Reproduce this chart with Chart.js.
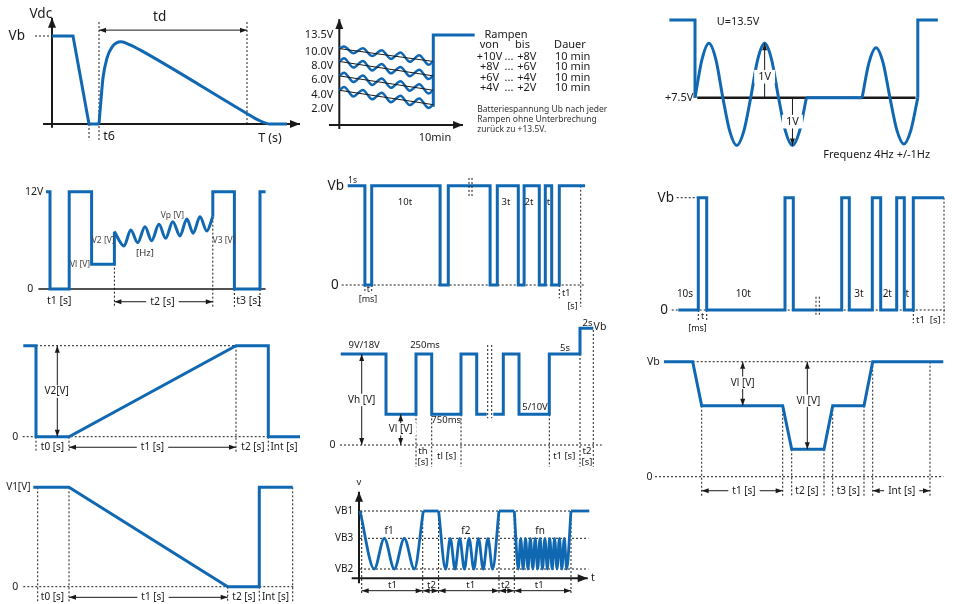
<!DOCTYPE html>
<html lang="de">
<head>
<meta charset="UTF-8">
<title>Prüfimpulse</title>
<script src="https://cdn.jsdelivr.net/npm/chart.js"></script>
<style>
  body { margin: 0; background: #fff; }
  #sheet { position: relative; width: 954px; height: 604px; overflow: hidden; background: #fff; }
  #sheet canvas { position: absolute; }
</style>
</head>
<body>
<div id="sheet"></div>
<script>
// ---------- data ----------
// A: Vdc drop and recovery pulse
const aDropT = [0, 10.5, 18.5, 23.5];
const aDropV = [12, 12, 0, 0];
const aPulseT = [23.5, 24.5, 25.5, 27.5, 30, 34.5, 39, 44, 97, 103, 109, 117.5];
const aPulseV = [0, 3.3, 6.3, 9.0, 10.5, 11.2, 10.8, 10.1, 1.5, 0.55, 0, 0];

// B: ramps (minutes / volts)
const bTicks = [13.5, 10, 8, 6, 4, 2];
const bTickLabels = ['13.5V', '10.0V', '8.0V', '6.0V', '4.0V', '2.0V'];
const bWaveT = [0, 0.5, 1.5, 2.5, 3.5, 4.5, 5.5, 6.5, 7.5, 8.5, 9.5, 10];
const bWave1 = [10.6, 11.05, 9.75, 10.65, 9.35, 10.25, 8.95, 9.85, 8.55, 9.45, 8.15, 8.6];
const bWave2 = [8.6, 9.05, 7.75, 8.65, 7.35, 8.25, 6.95, 7.85, 6.55, 7.45, 6.15, 6.6];
const bWave3 = [6.6, 7.05, 5.75, 6.65, 5.35, 6.25, 4.95, 5.85, 4.55, 5.45, 4.15, 4.6];
const bWave4 = [4.6, 5.05, 3.75, 4.65, 3.35, 4.25, 2.95, 3.85, 2.55, 3.45, 2.15, 2.6];
const bRampStart = [10.6, 8.6, 6.6, 4.6];
const bRampEnd = [8.6, 6.6, 4.6, 2.6];
const bStepT = [10, 10, 14.4];
const bStepV = [2.3, 13.5, 13.5];

// C: 4 Hz sine dips (seconds / volts)
const cEdgeLT = [-0.115, 0, 0];
const cEdgeLV = [13.5, 13.5, 7.5];
const cSine1T = [0, 0.03125, 0.0625, 0.09375, 0.125, 0.15625, 0.1875, 0.21875, 0.25,
                 0.28125, 0.3125, 0.34375, 0.375, 0.40625, 0.4375, 0.46875, 0.5];
const cSine1V = [7.5, 8.2, 8.5, 8.2, 7.5, 6.88, 6.62, 6.88, 7.5,
                 8.2, 8.5, 8.2, 7.5, 6.88, 6.62, 6.88, 7.5];
const cPauseT = [0.5, 0.75];
const cPauseV = [7.5, 7.5];
const cSine2T = [0.75, 0.78125, 0.8125, 0.84375, 0.875, 0.90625, 0.9375, 0.96875, 1.0];
const cSine2V = [7.5, 8.15, 8.42, 8.15, 7.5, 6.9, 6.65, 6.9, 7.5];
const cEdgeRT = [1.0, 1.0, 1.09];
const cEdgeRV = [7.5, 13.5, 13.5];

// D: 12V pulses with rising ripple
const dSq1T = [0, 1, 5.8, 11.4, 17.1];
const dSq1V = [12, 0, 12, 3.05, 7.07];
const dWaveT = [17.1, 19.5, 21.2, 22.9, 24.75, 26.4, 28.25, 29.9, 31.7, 33.5, 35.2, 36.8, 38.5, 40.2, 41.7];
const dWaveV = [7.07, 5.3, 7.27, 5.71, 7.68, 5.96, 7.97, 6.25, 8.3, 6.54, 8.63, 6.87, 8.92, 7.15, 8.92];
const dSq2T = [41.7, 41.7, 47.1, 53.5, 54.9];
const dSq2V = [8.92, 12, 0, 12, 12];

// E: dropouts from Vb (relative level)
const eT = [0, 8.6, 12, 46.2, 50.3, 71.2, 74.8, 85.3, 88.2, 95.8, 98.8, 102, 105.8, 118.7];
const eV = [1, 0, 1, 0, 1, 0, 1, 0, 1, 0, 1, 0, 1, 1];

// F: pulses up to Vb
const fT = [0, 10, 14.2, 53.35, 57.5, 81.7, 85.5, 97, 101.2, 109.2, 113, 117.5, 132.85];
const fV = [0, 1, 0, 1, 0, 1, 0, 1, 0, 1, 0, 1, 1];

// G: ramp up to V2
const gT = [-6.35, 0, 0, 16.5, 100, 116.15, 116.15, 132];
const gV = [1, 1, 0, 0, 1, 1, 0, 0];

// H: 9V/18V square with 5/10V low, then Vb
const hT1 = [0, 22.65, 37.65, 45.5, 60.15, 68, 73];
const hV1 = [1, 0.337, 1, 0.337, 1, 0.337, 0.337];
const hT2 = [76.3, 81.3, 89.15, 104.3, 119.65, 126.3];
const hV2 = [0.337, 1, 0.337, 1, 1.282, 1.282];

// I: two-stage dip
const iT = [0, 14.35, 18.85, 59.35, 63.85, 80, 84.35, 100, 104.35, 139.65];
const iV = [1, 1, 0.617, 0.617, 0.238, 0.238, 0.617, 0.617, 1, 1];

// J: ramp down from V1
const jT = [-17.85, 0, 79.35, 95.15, 95.15, 111.85];
const jV = [1, 1, 0, 0, 1, 1];

// K: VB1 / VB3 / VB2 sweeps
const kF1T = [0.5, 7.65, 12.65, 17.65, 22.65, 27.65, 32.15];
const kF1V = [1, 0.138, 0.594, 0.138, 0.594, 0.138, 1];
const kF2T = [39.8, 43.3, 45.65, 48, 50.35, 52.7, 55.05, 57.4, 59.75, 62.1, 64.45, 66.8, 70];
const kF2V = [1, 0.138, 0.594, 0.138, 0.594, 0.138, 0.594, 0.138, 0.594, 0.138, 0.594, 0.138, 1];
const kFnT = [77.65, 79.65, 80.85, 82.07, 83.27, 84.49, 85.69, 86.91, 88.11, 89.33, 90.53, 91.75,
              92.95, 94.17, 95.37, 96.59, 97.79, 99.01, 100.21, 101.43, 102.63, 103.85, 106];
const kFnV = [1, 0.138, 0.594, 0.138, 0.594, 0.138, 0.594, 0.138, 0.594, 0.138, 0.594, 0.138,
              0.594, 0.138, 0.594, 0.138, 0.594, 0.138, 0.594, 0.138, 0.594, 0.138, 1];
const kHoldStart = [32.15, 70, 106];
const kHoldEnd = [39.8, 77.65, 115.15];

// ---------- drawing helpers ----------
const BLUE = '#1168b2';
const INK = '#1a1a1a';
const FONT = '"Noto Sans", "DejaVu Sans", sans-serif';

// y axis that squeezes values above a break (not-to-scale top level)
class BrokenScale extends Chart.LinearScale {
  squash(v) {
    const b = this.options.breakAt, f = this.options.breakFactor;
    return (b !== undefined && v > b) ? b + (v - b) * f : v;
  }
  getPixelForValue(v, i) { return super.getPixelForValue(this.squash(v), i); }
}
BrokenScale.id = 'broken';
BrokenScale.defaults = {};
Chart.register(BrokenScale);

function pts(t, v) { return t.map((x, i) => ({ x, y: v[i] })); }

function trace(t, v, mode, color, width) {
  return {
    data: pts(t, v),
    borderColor: color || BLUE,
    borderWidth: width || 3,
    tension: 0,
    cubicInterpolationMode: mode === 'smooth' ? 'monotone' : 'default',
    stepped: mode === 'step' ? 'before' : false,
    borderJoinStyle: 'miter',
    pointRadius: 0,
    fill: false,
    clip: false
  };
}

const T = (x, y, s, size, align, bg, color) => ['text', x, y, s, size, align, bg, color];
const D = (x1, y1, x2, y2) => ['dash', x1, y1, x2, y2];
const L = (x1, y1, x2, y2, w) => ['line', x1, y1, x2, y2, w];
const AX = (x1, y1, x2, y2) => ['axis', x1, y1, x2, y2, 2];
const AR = (x1, y1, x2, y2) => ['arrow', x1, y1, x2, y2, 1];
const RAY = (x1, y1, x2, y2) => ['ray', x1, y1, x2, y2, 1];

function head(ctx, from, to, len, half) {
  const a = Math.atan2(to[1] - from[1], to[0] - from[0]);
  const c = Math.cos(a), s = Math.sin(a);
  ctx.beginPath();
  ctx.moveTo(to[0], to[1]);
  ctx.lineTo(to[0] - len * c + half * s, to[1] - len * s - half * c);
  ctx.lineTo(to[0] - len * c - half * s, to[1] - len * s + half * c);
  ctx.closePath();
  ctx.fill();
}

function paint(chart, items) {
  const ctx = chart.ctx, sx = chart.scales.x, sy = chart.scales.y;
  const X = v => sx.getPixelForValue(v), Y = v => sy.getPixelForValue(v);
  items.forEach(it => {
    ctx.save();
    const k = it[0];
    if (k === 'text') {
      const [, x, y, s, size, align, bg, color] = it;
      ctx.font = size + 'px ' + FONT;
      ctx.textAlign = align || 'center';
      ctx.textBaseline = 'middle';
      const px = X(x), py = Y(y);
      if (bg) {
        const w = ctx.measureText(s).width;
        const l = align === 'left' ? px : align === 'right' ? px - w : px - w / 2;
        ctx.fillStyle = '#fff';
        ctx.fillRect(l - 4, py - size * 0.62, w + 8, size * 1.24);
      }
      ctx.fillStyle = color || INK;
      ctx.fillText(s, px, py);
    } else {
      const [, x1, y1, x2, y2, w] = it;
      const p1 = [X(x1), Y(y1)], p2 = [X(x2), Y(y2)];
      ctx.strokeStyle = INK;
      ctx.fillStyle = INK;
      ctx.lineWidth = k === 'dash' ? 1 : (w || 1);
      if (k === 'dash') ctx.setLineDash([2, 2]);
      ctx.beginPath();
      ctx.moveTo(p1[0], p1[1]);
      ctx.lineTo(p2[0], p2[1]);
      ctx.stroke();
      ctx.setLineDash([]);
      if (k === 'axis') head(ctx, p1, p2, 10, 4);
      if (k === 'arrow') { head(ctx, p1, p2, 7, 2.5); head(ctx, p2, p1, 7, 2.5); }
      if (k === 'ray') head(ctx, p1, p2, 7, 2.5);
    }
    ctx.restore();
  });
}

function panel(frame, datasets, under, over, yExtra) {
  const c = document.createElement('canvas');
  c.width = frame.w;
  c.height = frame.h;
  c.style.left = frame.left + 'px';
  c.style.top = frame.top + 'px';
  document.getElementById('sheet').appendChild(c);
  const yScale = Object.assign({
    type: 'linear', display: false, bounds: 'data',
    min: (frame.y0 - frame.top - frame.h) / frame.ky,
    max: (frame.y0 - frame.top) / frame.ky
  }, yExtra || {});
  return new Chart(c, {
    type: 'line',
    data: { datasets },
    options: {
      responsive: false,
      animation: false,
      events: [],
      layout: { padding: 0 },
      plugins: { legend: { display: false }, tooltip: { enabled: false } },
      scales: {
        x: {
          type: 'linear', display: false, bounds: 'data',
          min: (frame.left - frame.x0) / frame.kx,
          max: (frame.left + frame.w - frame.x0) / frame.kx
        },
        y: yScale
      }
    },
    plugins: [{
      id: 'sketch',
      beforeDatasetsDraw(chart) { paint(chart, under); },
      afterDatasetsDraw(chart) { paint(chart, over); }
    }]
  });
}

// ---------- A ----------
panel({ left: 0, top: 0, w: 310, h: 150, x0: 52, kx: 2, y0: 124, ky: 7.333 },
  [trace(aDropT, aDropV), trace(aPulseT, aPulseV, 'smooth')],
  [AX(0, -0.5, 0, 14.5), AX(-4.5, 0, 124, 0), D(-8.5, 12, 0, 12),
   D(18.5, 0, 18.5, -2.2), D(23.5, 13.9, 23.5, -2.2), D(97.5, 13.9, 97.5, 0)],
  [AR(23.5, 12.8, 97.5, 12.8),
   T(-5.6, 15.0, 'Vdc', 13.5), T(-17.6, 12, 'Vb', 13.5), T(53.8, 14.55, 'td', 13.5),
   T(28.5, -1.64, 't6', 12.5), T(109, -1.95, 'T (s)', 12.5)]);

// ---------- B ----------
const bSets = bRampStart.map((s, i) => trace([0, 10], [s, bRampEnd[i]], 'line', INK, 1));
[bWave1, bWave2, bWave3, bWave4].forEach(w => bSets.push(trace(bWaveT, w, 'smooth', BLUE, 2.5)));
bSets.push(trace(bStepT, bStepV, 'line', BLUE, 3));
const bOver = bTicks.map((v, i) => T(-0.64, v, bTickLabels[i], 11, 'right'));
const bRows = [9.18, 7.79, 6.35, 4.88];
const bFrom = ['+10V', '+8V', '+6V', '+4V'];
const bTo = ['+8V', '+6V', '+4V', '+2V'];
bRows.forEach((r, i) => {
  bOver.push(T(15.98, r, bFrom[i], 11), T(18.05, r, '...', 11), T(19.94, r, bTo[i], 11), T(24.83, r, '10 min', 11));
});
bOver.push(
  T(17.73, 13.5, 'Rampen', 11), T(15.95, 11.37, 'von', 11), T(19.49, 11.37, 'bis', 11), T(24.54, 11.37, 'Dauer', 11),
  T(14.68, 1.86, 'Batteriespannung Ub nach jeder', 8.5, 'left', false, '#333'),
  T(14.68, 0.47, 'Rampen ohne Unterbrechung', 8.5, 'left', false, '#333'),
  T(14.68, -0.92, 'zurück zu +13.5V.', 8.5, 'left', false, '#333'),
  T(10.18, -1.99, '10min', 11));
panel({ left: 300, top: 0, w: 340, h: 150, x0: 339.3, kx: 9.4, y0: 123.4, ky: 7.2 },
  bSets,
  [AX(0, -0.78, 0, 16.9), AX(-1.1, -0.22, 13.16, -0.22)],
  bOver,
  { type: 'broken', breakAt: 10, breakFactor: 0.65 });

// ---------- C ----------
panel({ left: 640, top: 0, w: 314, h: 170, x0: 695, kx: 222.8, y0: 505.7, ky: 54.4 },
  [trace(cEdgeLT, cEdgeLV), trace(cSine1T, cSine1V, 'smooth'), trace(cPauseT, cPauseV),
   trace(cSine2T, cSine2V, 'smooth'), trace(cEdgeRT, cEdgeRV)],
  [L(0.01, 7.5, 0.99, 7.5, 2.5)],
  [RAY(0.3125, 7.5, 0.3125, 8.5), T(0.3125, 7.886, '1V', 11, 'center', true),
   RAY(0.4375, 7.5, 0.4375, 6.62), T(0.4375, 7.06, '1V', 11, 'center', true),
   T(-0.0076, 7.5, '+7.5V', 11, 'right'), T(0.0974, 13.12, 'U=13.5V', 11, 'left'),
   T(0.576, 6.447, 'Frequenz 4Hz +/-1Hz', 11, 'left')],
  { type: 'broken', breakAt: 8.5, breakFactor: 0.086 });

// ---------- D ----------
panel({ left: 0, top: 170, w: 300, h: 150, x0: 46, kx: 4, y0: 289, ky: 8.11 },
  [trace(dSq1T, dSq1V, 'step'), trace(dWaveT, dWaveV, 'smooth'), trace(dSq2T, dSq2V, 'step')],
  [L(-1.9, 0, 54.9, 0, 1.5), D(17.1, 7.07, 17.1, -2.18), D(41.7, 8.92, 41.7, -2.18),
   D(47.1, 0, 47.1, -2.18), D(53.5, 0, 53.5, -2.18)],
  [AR(17.1, -1.57, 41.7, -1.57), T(29.1, -1.57, 't2 [s]', 10.5, 'center', true),
   T(3.3, -1.44, 't1 [s]', 10.5), T(50.6, -1.44, 't3 [s]', 10.5),
   T(-0.675, 12, '12V', 10.5, 'right'), T(-3.18, 0, '0', 10.5, 'right'),
   T(8.5, 2.96, 'Vl [V]', 8.5, 'center', false, '#444'), T(14.3, 5.96, 'V2 [V]', 8.5, 'center', false, '#444'),
   T(31.6, 9.0, 'Vp [V]', 8.5, 'center', false, '#444'), T(24.75, 4.4, '[Hz]', 9.5, 'center', false, '#333'),
   T(44.5, 5.96, 'V3 [V]', 8.5, 'center', false, '#444')]);

// ---------- E ----------
panel({ left: 320, top: 170, w: 300, h: 145, x0: 347.7, kx: 2, y0: 285, ky: 99.3 },
  [trace(eT, eV, 'step')],
  [D(-3, 0, 118.7, 0), D(8.6, 0, 8.6, -0.084), D(12, 0, 12, -0.084),
   D(105.8, 0, 105.8, -0.134), D(116.5, 1, 116.5, -0.218)],
  [D(60.65, 1.078, 60.65, 0.889), D(62.15, 1.078, 62.15, 0.889),
   T(-5.95, 1, 'Vb', 13.5), T(2.4, 1.047, '1s', 8.5), T(-6.45, 0, '0', 13.5),
   T(10.3, -0.04, 't', 9), T(10.15, -0.144, '[ms]', 9),
   T(109.3, -0.084, 't1', 9), T(112.4, -0.211, '[s]', 9),
   T(28.65, 0.829, '10t', 9.5), T(79.15, 0.829, '3t', 9.5), T(90.65, 0.829, '2t', 9.5), T(100.4, 0.829, 't', 9.5)]);

// ---------- F ----------
panel({ left: 640, top: 180, w: 314, h: 160, x0: 678.3, kx: 2, y0: 310, ky: 112.3 },
  [trace(fT, fV, 'step')],
  [D(-0.8, 1, 10, 1), D(-3.3, 0, 133.35, 0), D(10, 0, 10, -0.089), D(14.2, 0, 14.2, -0.089),
   D(117.5, 0, 117.5, -0.119), D(132.85, 1, 132.85, -0.119)],
  [D(68.85, 0.118, 68.85, -0.06), D(70.5, 0.118, 70.5, -0.06),
   T(-6.25, 1, 'Vb', 13.5), T(-7.05, 0, '0', 13.5),
   T(12.2, -0.06, 't', 9), T(9.6, -0.163, '[ms]', 9), T(125, -0.089, 't1  [s]', 9.5),
   T(3.35, 0.142, '10s', 10), T(32.5, 0.142, '10t', 10), T(90.35, 0.142, '3t', 10),
   T(104.5, 0.142, '2t', 10), T(114.5, 0.142, 't', 10)]);

// ---------- G ----------
panel({ left: 0, top: 330, w: 305, h: 130, x0: 36, kx: 2, y0: 436.7, ky: 91 },
  [trace(gT, gV)],
  [D(-6.65, 0, 132, 0), D(0, 1, 100, 1), D(0, 0, 0, -0.165), D(16.5, 0, 16.5, -0.165),
   D(100, 1, 100, -0.165), D(116.15, 0, 116.15, -0.165)],
  [AR(10.65, 0, 10.65, 1), T(10.35, 0.495, 'V2[V]', 10, 'center', true),
   T(-10.35, 0, '0', 10.5), T(8.25, -0.116, 't0 [s]', 10),
   AR(16.5, -0.116, 100, -0.116), T(58.25, -0.116, 't1 [s]', 10, 'center', true),
   T(108.5, -0.116, 't2 [s]', 10), T(124, -0.116, 'Int [s]', 10)]);

// ---------- H ----------
panel({ left: 320, top: 318, w: 300, h: 152, x0: 340.7, kx: 2, y0: 445, ky: 91 },
  [trace(hT1, hV1, 'step'), trace(hT2, hV2, 'step')],
  [D(-0.35, 0, 130.5, 0), D(37.65, 0.337, 37.65, -0.238), D(45.5, 0.337, 45.5, -0.238),
   D(60.15, 0.337, 60.15, -0.238), D(104.3, 0.337, 104.3, -0.238),
   D(119.65, 1, 119.65, -0.238), D(126.3, 1.264, 126.3, -0.238)],
  [D(73.5, 1.099, 73.5, 0.293), D(75.5, 1.099, 75.5, 0.293),
   AR(10.5, 0, 10.5, 1), T(10.5, 0.495, 'Vh [V]', 10, 'center', true),
   AR(30, 0, 30, 0.337), T(30, 0.173, 'Vl [V]', 10, 'center', true),
   T(-4.1, 0, '0', 10.5), T(11.75, 1.099, '9V/18V', 9.5), T(42.15, 1.099, '250ms', 9.5),
   T(52.75, 0.275, '750ms', 9.5), T(97.15, 0.414, '5/10V', 9.5), T(112.15, 1.063, '5s', 9.5),
   T(123.4, 1.337, '2s', 9.5), T(129.65, 1.293, 'Vb', 10.5),
   T(41.15, -0.074, 'th', 9.5), T(41.15, -0.195, '[s]', 9.5), T(53, -0.129, 'tl [s]', 9.5),
   T(111.75, -0.129, 't1 [s]', 9.5), T(123.15, -0.074, 't2', 9.5), T(123.15, -0.195, '[s]', 9.5)]);

// ---------- I ----------
panel({ left: 640, top: 340, w: 314, h: 170, x0: 664, kx: 2, y0: 476.7, ky: 115 },
  [trace(iT, iV)],
  [D(-4.5, 0, 139.65, 0), D(14.35, 1, 104.35, 1),
   D(18.85, 0.617, 18.85, -0.174), D(59.35, 0.617, 59.35, -0.174), D(63.85, 0.238, 63.85, -0.174),
   D(80, 0.238, 80, -0.174), D(84.35, 0.617, 84.35, -0.174), D(100, 0.617, 100, -0.174),
   D(104.35, 1, 104.35, -0.174), D(133, 1, 133, -0.174)],
  [AR(39.35, 1, 39.35, 0.617), T(39.35, 0.817, 'Vl [V]', 10, 'center', true),
   AR(71.65, 1, 71.65, 0.238), T(72.15, 0.661, 'Vl [V]', 10, 'center', true),
   T(-5.35, 1, 'Vb', 10.5), T(-7.25, 0, '0', 10.5),
   AR(18.85, -0.122, 59.35, -0.122), T(40, -0.122, 't1 [s]', 10, 'center', true),
   T(71.5, -0.122, 't2 [s]', 10), T(92.15, -0.122, 't3 [s]', 10),
   AR(104.35, -0.122, 133, -0.122), T(118.85, -0.122, 'Int [s]', 10, 'center', true)]);

// ---------- J ----------
panel({ left: 0, top: 470, w: 300, h: 134, x0: 69, kx: 2, y0: 586.7, ky: 99.4 },
  [trace(jT, jV)],
  [D(-22.85, 0, 113, 0), D(-15.65, 1, -15.65, -0.151), D(0, 1, 0, -0.151),
   D(79.35, 0, 79.35, -0.151), D(95.15, 0, 95.15, -0.151), D(111.85, 1, 111.85, -0.151)],
  [T(-25.35, 1, 'V1[V]', 10), T(-26.85, 0, '0', 10.5), T(-8.25, -0.107, 't0 [s]', 10),
   AR(0, -0.107, 79.35, -0.107), T(42, -0.107, 't1 [s]', 10, 'center', true),
   T(87.5, -0.107, 't2 [s]', 10), T(103.25, -0.107, 'Int [s]', 10)]);

// ---------- K ----------
const kSets = [trace(kF1T, kF1V, 'smooth', BLUE, 2.8), trace(kF2T, kF2V, 'smooth', BLUE, 2.8),
               trace(kFnT, kFnV, 'smooth', BLUE, 2.8)];
kHoldStart.forEach((s, i) => kSets.push(trace([s, kHoldEnd[i]], [1, 1], 'line', BLUE, 2.8)));
const kEdges = [1.35, 31.85, 39.8, 70, 77.65, 106];
const kUnder = [D(0.5, 1, 114.65, 1), D(0.5, 0.594, 114.65, 0.594), D(0.5, 0.138, 114.65, 0.138)];
kEdges.forEach(t => kUnder.push(D(t, 1, t, -0.223)));
kUnder.push(AX(0, -0.074, 0, 1.287), AX(-3.65, 0, 114.35, 0));
const kOver = [];
const kSpanLabels = ['t1', 't2', 't1', 't2', 't1'];
const kSpanMid = [16.75, 36.2, 55.9, 73.2, 90.1];
kSpanLabels.forEach((s, i) => {
  kOver.push(AR(kEdges[i], -0.184, kEdges[i + 1], -0.184), T(kSpanMid[i], -0.1, s, 9.5));
});
kOver.push(T(-7.4, 1, 'VB1', 10), T(-7.4, 0.594, 'VB3', 10), T(-7.4, 0.138, 'VB2', 10),
  T(0, 1.42, 'v', 9.5), T(117, 0, 't', 10.5),
  T(15.1, 0.703, 'f1', 10), T(53.4, 0.703, 'f2', 10), T(90.5, 0.703, 'fn', 10));
panel({ left: 320, top: 470, w: 300, h: 134, x0: 359, kx: 2, y0: 578.3, ky: 67.3 },
  kSets, kUnder, kOver);
</script>
</body>
</html>
